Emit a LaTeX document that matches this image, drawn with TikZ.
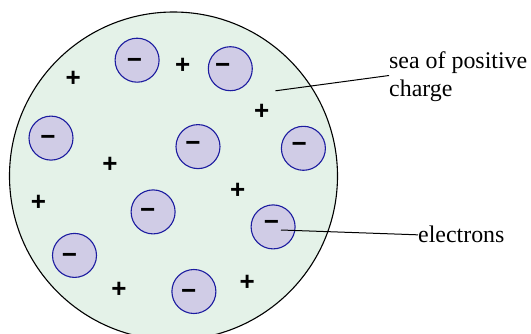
\documentclass[tikz,border=0pt]{standalone}
\usepackage{fontspec}
\setmainfont{Liberation Serif}
\newfontfamily\signfont{Liberation Sans}
\definecolor{seafill}{HTML}{E4F2E8}
\definecolor{elfill}{HTML}{D0CCE6}
\definecolor{eldraw}{HTML}{1C1CA0}
\begin{document}
\begin{tikzpicture}[x=1pt,y=-1pt,
  sea/.style={circle,draw=black,line width=1.1pt,fill=seafill,minimum size=328pt,inner sep=0pt},
  electron/.style={circle,draw=eldraw,line width=1.1pt,fill=elfill,minimum size=44pt,inner sep=0pt},
  sign/.style={inner sep=0pt,font=\signfont\bfseries\fontsize{26}{26}\selectfont},
  lbl/.style={inner sep=0pt,font=\fontsize{23.9}{27.5}\selectfont,align=left},
  leader/.style={draw=black,line width=1pt}]
\useasboundingbox (0,0) rectangle (531,333);
\clip (0,0) rectangle (531,333);
\node[sea] (sea) at (173.5,176) {};
% electrons
\node[electron] (e1) at (137.1,60.2) {};
\node[electron] (e2) at (230.3,68.7) {};
\node[electron] (e3) at (51.0,138.1) {};
\node[electron] (e4) at (198.0,146.6) {};
\node[electron] (e5) at (303.4,148.3) {};
\node[electron] (e6) at (153.1,211.9) {};
\node[electron] (e7) at (273.1,226.9) {};
\node[electron] (e8) at (74.5,255.4) {};
\node[electron] (e9) at (193.9,291.5) {};
% minus signs
\node[sign] (m1) at (134.4,63.6) {−};
\node[sign] (m2) at (222.8,68.0) {−};
\node[sign] (m3) at (48.0,140.1) {−};
\node[sign] (m4) at (192.9,146.9) {−};
\node[sign] (m5) at (299.3,147.6) {−};
\node[sign] (m6) at (147.6,213.3) {−};
\node[sign] (m7) at (271.4,225.2) {−};
\node[sign] (m8) at (69.4,258.5) {−};
\node[sign] (m9) at (188.8,294.6) {−};
% plus signs
\node[sign] (p1) at (73.1,79.3) {+};
\node[sign] (p2) at (182.7,65.6) {+};
\node[sign] (p3) at (261.6,112.2) {+};
\node[sign] (p4) at (109.9,164.6) {+};
\node[sign] (p5) at (38.4,202.7) {+};
\node[sign] (p6) at (237.8,190.8) {+};
\node[sign] (p7) at (119.0,289.8) {+};
\node[sign] (p8) at (247.3,283.3) {+};
% labels
\node[lbl,anchor=north west] (seal) at (389,51.5) {sea of positive\\charge};
\node[lbl,anchor=base west] (ell) at (418,242) {electrons};
\coordinate (seapt) at (275.5,90.8);
\coordinate (elpt) at (281,230);
\draw[leader] (seapt) -- (seal.west |- 0,75.5) coordinate (seaend);
\draw[leader] (elpt) -- ([yshift=-1pt]ell.west);
\end{tikzpicture}
\end{document}
